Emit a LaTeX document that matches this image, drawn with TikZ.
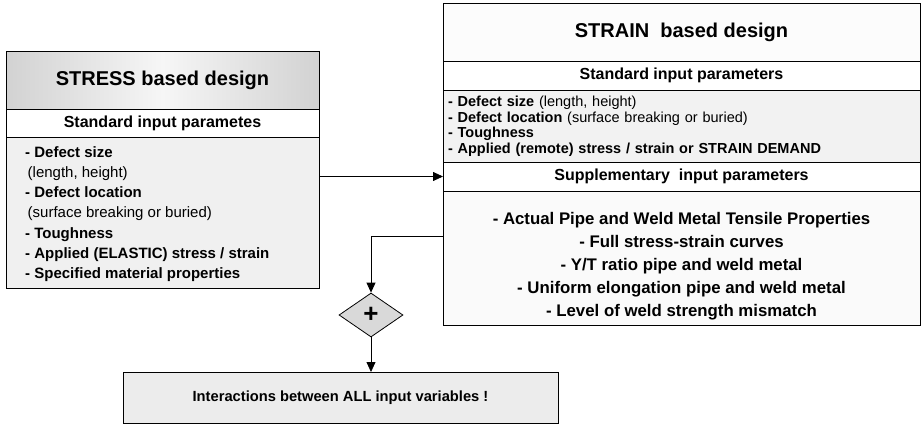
\documentclass[tikz,border=0pt]{standalone}
\usepackage{fontspec}
\setmainfont{Liberation Sans}
\usetikzlibrary{arrows.meta,shapes.geometric,calc}

\definecolor{headout}{HTML}{D2D2D2}
\definecolor{headin}{HTML}{F6F6F6}
\definecolor{listgray}{HTML}{F0F0F0}
\definecolor{rlistgray}{HTML}{F2F2F2}
\definecolor{paper}{HTML}{FCFCFC}
\definecolor{suppfill}{HTML}{FAFAFA}
\definecolor{plusfill}{HTML}{D9D9D9}
\definecolor{resfill}{HTML}{ECECEC}

\begin{document}
\begin{tikzpicture}[x=1pt,y=-1pt,
  cell/.style={draw=black, line width=0.8pt, anchor=north west,
               inner sep=0pt, outer sep=0pt},
  titlefont/.style={font=\fontsize{20pt}{24pt}\selectfont\bfseries},
  subfont/.style={font=\fontsize{16pt}{19pt}\selectfont\bfseries},
  arr/.style={line width=0.8pt, -{Triangle[length=10pt,width=9pt]}},
  ]
\useasboundingbox (0,0) rectangle (922,424);

% ---- stress based design ----
\node[cell, minimum width=313pt, minimum height=58pt,
      left color=headout, right color=headout, middle color=headin,
      titlefont] (lhead) at (6,51) {STRESS based design};
\node[cell, minimum width=313pt, minimum height=28pt, fill=white,
      subfont] (lsub) at (6,109) {Standard input parametes};
\node[cell, minimum width=313pt, minimum height=151pt, fill=listgray]
  (llist) at (6,137) {};
\node[anchor=west, inner sep=0pt, align=left,
      font=\fontsize{15pt}{20.2pt}\selectfont] (llisttext) at (25,214)
  {\textbf{- Defect size}\\
   \hspace*{2.5pt}(length, height)\\
   \textbf{- Defect location}\\
   \hspace*{2.5pt}(surface breaking or buried)\\
   \textbf{- Toughness}\\
   \textbf{- Applied (ELASTIC) stress / strain}\\
   \textbf{- Specified material properties}};

% ---- strain based design ----
\node[cell, minimum width=477pt, minimum height=58pt, fill=paper,
      titlefont] (rhead) at (443,3) {STRAIN\ \ based design};
\node[cell, minimum width=477pt, minimum height=29pt, fill=white,
      subfont] (rsub) at (443,61) {Standard input parameters};
\node[cell, minimum width=477pt, minimum height=72pt, fill=rlistgray,
      inner xsep=5pt, text width=467pt, align=left,
      font=\fontsize{14.5pt}{15.5pt}\selectfont] (rlist) at (443,90)
  {\textbf{- Defect size} (length, height)\\
   \textbf{- Defect location} (surface breaking or buried)\\
   \textbf{- Toughness}\\
   \textbf{- Applied (remote) stress / strain or STRAIN DEMAND}};
\node[cell, minimum width=477pt, minimum height=29pt, fill=white,
      subfont] (rsupphead) at (443,162) {Supplementary\ \ input parameters};
\node[cell, minimum width=477pt, minimum height=134pt, fill=suppfill]
  (rsupp) at (443,191) {};
\node[align=center, inner sep=0pt,
      font=\fontsize{16.8pt}{23pt}\selectfont\bfseries] (rsupptext) at (681.5,266)
  {- Actual Pipe and Weld Metal Tensile Properties\\
   - Full stress-strain curves\\
   - Y/T ratio pipe and weld metal\\
   - Uniform elongation pipe and weld metal\\
   - Level of weld strength mismatch};

% ---- combination and result ----
\node[diamond, draw=black, line width=0.8pt, fill=plusfill, inner sep=0pt,
      minimum width=64pt, minimum height=44pt,
      font=\fontsize{26pt}{26pt}\selectfont\bfseries] (plus) at (371,315) {+};
\node[cell, minimum width=435pt, minimum height=51pt, fill=resfill,
      font=\fontsize{14.7pt}{17pt}\selectfont\bfseries] (result) at (123,372)
  {Interactions between ALL input variables !};

% ---- connectors ----
\coordinate (tap) at (rsupp.west |- 0,236);
\draw[arr] (llist.east |- rsupphead.west) -- (rsupphead.west);
\draw[arr] (tap) -| (plus.north);
\draw[arr] (plus.south) -- (plus.south |- result.north);
\end{tikzpicture}
\end{document}
